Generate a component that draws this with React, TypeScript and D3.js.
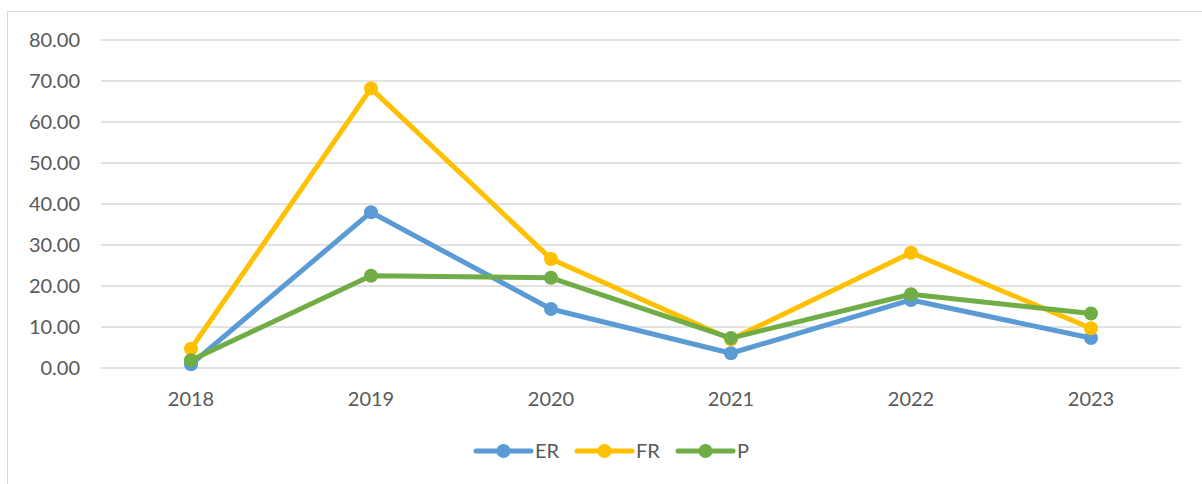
import React from "react";
import * as d3 from "d3";

const years = ["2018", "2019", "2020", "2021", "2022", "2023"];
const erValues = [0.9, 38.0, 14.4, 3.6, 16.6, 7.3];
const frValues = [4.7, 68.2, 26.6, 7.0, 28.1, 9.7];
const pValues = [1.9, 22.5, 22.0, 7.3, 18.0, 13.3];
const yTicks = [0, 10, 20, 30, 40, 50, 60, 70, 80];

const series = [
  { name: "ER", values: erValues, color: "#5B9BD5" },
  { name: "FR", values: frValues, color: "#FFC000" },
  { name: "P", values: pValues, color: "#70AD47" },
];

const W = 1202;
const H = 484;
const font = "Lato, 'Open Sans', sans-serif";
const textColor = "#595959";

const App = () => {
  const x = d3.scaleBand().domain(years).range([101, 1181]);
  const y = d3.scaleLinear().domain([0, 80]).range([368, 40]);
  const cx = (d: string) => (x(d) as number) + x.bandwidth() / 2;

  const line = d3
    .line<number>()
    .x((d, i) => cx(years[i]))
    .y((d) => y(d));

  return (
    <svg
      width={W}
      height={H}
      style={{ position: "absolute", left: 0, top: 0, background: "#fff" }}
    >
      <rect x={7.5} y={11.5} width={1200} height={480} fill="#fff" stroke="#d9d9d9" />

      {yTicks.map((t) => (
        <g key={t}>
          <line x1={101} x2={1181} y1={y(t)} y2={y(t)} stroke="#d9d9d9" strokeWidth={1.5} />
          <text
            x={80}
            y={y(t)}
            dy="0.35em"
            textAnchor="end"
            fontFamily={font}
            fontSize={20}
            fill={textColor}
          >
            {t.toFixed(2)}
          </text>
        </g>
      ))}

      {years.map((yr) => (
        <text
          key={yr}
          x={cx(yr)}
          y={399}
          dy="0.35em"
          textAnchor="middle"
          fontFamily={font}
          fontSize={20}
          fill={textColor}
        >
          {yr}
        </text>
      ))}

      {series.map((s) => (
        <g key={s.name}>
          <path
            d={line(s.values) || ""}
            fill="none"
            stroke={s.color}
            strokeWidth={5}
            strokeLinejoin="round"
            strokeLinecap="round"
          />
          {s.values.map((v, i) => (
            <circle key={i} cx={cx(years[i])} cy={y(v)} r={7} fill={s.color} />
          ))}
        </g>
      ))}

      {series.map((s, i) => {
        const lx = 476 + i * 101;
        return (
          <g key={s.name}>
            <line
              x1={lx}
              x2={lx + 55}
              y1={451}
              y2={451}
              stroke={s.color}
              strokeWidth={5}
              strokeLinecap="round"
            />
            <circle cx={lx + 27.5} cy={451} r={7} fill={s.color} />
            <text
              x={lx + 59}
              y={451}
              dy="0.35em"
              fontFamily={font}
              fontSize={20}
              fill={textColor}
            >
              {s.name}
            </text>
          </g>
        );
      })}
    </svg>
  );
};

export default App;
